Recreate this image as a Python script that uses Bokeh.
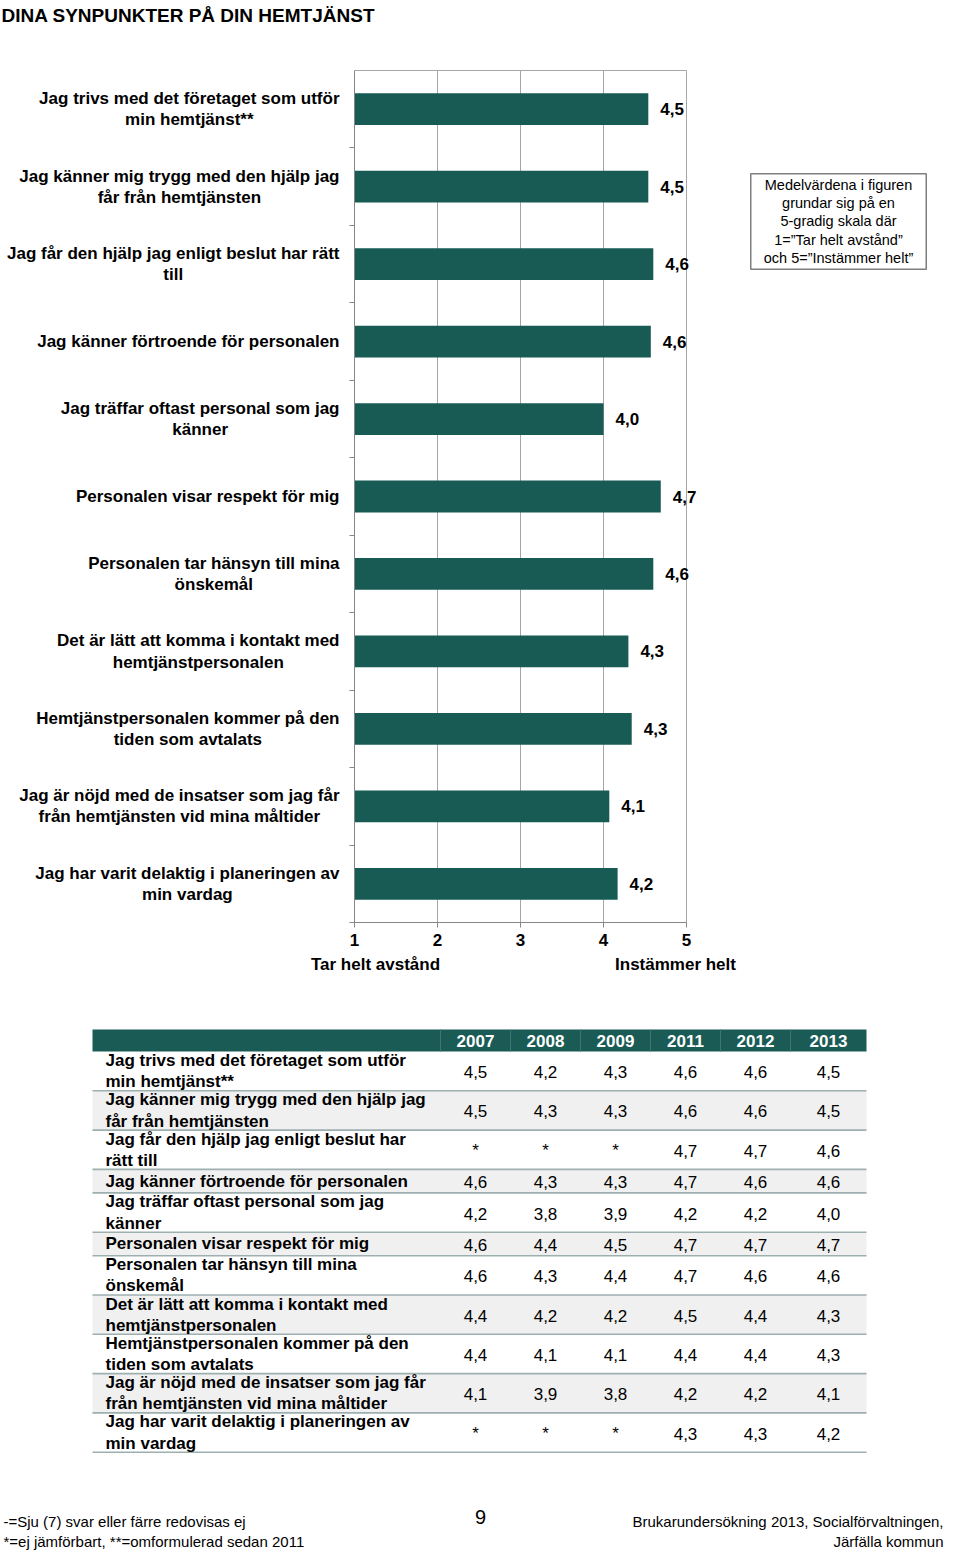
from bokeh.plotting import figure
from bokeh.models import ColumnDataSource, Range1d, FixedTicker, Label, LinearAxis, Grid
from bokeh.embed import file_html
from bokeh.resources import INLINE
from bokeh.core.properties import value

FONT = "Liberation Sans"

# ------------------------------------------------------------------ data
title_text = "DINA SYNPUNKTER PÅ DIN HEMTJÄNST"

chart_labels = [
    "Jag trivs med det företaget som utför\nmin hemtjänst**",
    "Jag känner mig trygg med den hjälp jag\nfår från hemtjänsten",
    "Jag får den hjälp jag enligt beslut har rätt\ntill",
    "Jag känner förtroende för personalen",
    "Jag träffar oftast personal som jag\nkänner",
    "Personalen visar respekt för mig",
    "Personalen tar hänsyn till mina\nönskemål",
    "Det är lätt att komma i kontakt med\nhemtjänstpersonalen",
    "Hemtjänstpersonalen kommer på den\ntiden som avtalats",
    "Jag är nöjd med de insatser som jag får\nfrån hemtjänsten vid mina måltider",
    "Jag har varit delaktig i planeringen av\nmin vardag",
]
bar_values = [4.54, 4.54, 4.60, 4.57, 4.00, 4.69, 4.60, 4.30, 4.34, 4.07, 4.17]

scale_ticks = [1, 2, 3, 4, 5]
scale_low = "Tar helt avstånd"
scale_high = "Instämmer helt"
note_text = ("Medelvärdena i figuren\ngrundar sig på en\n5-gradig skala där\n"
             "1=”Tar helt avstånd”\noch 5=”Instämmer helt”")

table_labels = [
    "Jag trivs med det företaget som utför\nmin hemtjänst**",
    "Jag känner mig trygg med den hjälp jag\nfår från hemtjänsten",
    "Jag får den hjälp jag enligt beslut har\nrätt till",
    "Jag känner förtroende för personalen",
    "Jag träffar oftast personal som jag\nkänner",
    "Personalen visar respekt för mig",
    "Personalen tar hänsyn till mina\nönskemål",
    "Det är lätt att komma i kontakt med\nhemtjänstpersonalen",
    "Hemtjänstpersonalen kommer på den\ntiden som avtalats",
    "Jag är nöjd med de insatser som jag får\nfrån hemtjänsten vid mina måltider",
    "Jag har varit delaktig i planeringen av\nmin vardag",
]
years = ["2007", "2008", "2009", "2011", "2012", "2013"]
v2007 = [4.5, 4.5, None, 4.6, 4.2, 4.6, 4.6, 4.4, 4.4, 4.1, None]
v2008 = [4.2, 4.3, None, 4.3, 3.8, 4.4, 4.3, 4.2, 4.1, 3.9, None]
v2009 = [4.3, 4.3, None, 4.3, 3.9, 4.5, 4.4, 4.2, 4.1, 3.8, None]
v2011 = [4.6, 4.6, 4.7, 4.7, 4.2, 4.7, 4.7, 4.5, 4.4, 4.2, 4.3]
v2012 = [4.6, 4.6, 4.7, 4.6, 4.2, 4.7, 4.6, 4.4, 4.4, 4.2, 4.3]
v2013 = [4.5, 4.5, 4.6, 4.6, 4.0, 4.7, 4.6, 4.3, 4.3, 4.1, 4.2]

page_no = "9"
footer_left = "-=Sju (7) svar eller färre redovisas ej\n*=ej jämförbart, **=omformulerad sedan 2011"
footer_right = "Brukarundersökning 2013, Socialförvaltningen,\nJärfälla kommun"

# ------------------------------------------------------------------ helpers
BAR = "#175b54"
HEAD = "#1a5c55"
GRID = "#a6a6a6"
AXIS = "#868686"


def fmt(v):
    return "*" if v is None else f"{v:.1f}".replace(".", ",")


BOLD_W = {" ": 278, "*": 389, ",": 278, "a": 556, "b": 611, "c": 556, "d": 611,
          "e": 556, "f": 333, "g": 611, "h": 611, "i": 278, "j": 278, "k": 556,
          "l": 278, "m": 889, "n": 611, "o": 611, "p": 611, "q": 611, "r": 389,
          "s": 556, "t": 333, "u": 611, "v": 556, "w": 778, "x": 556, "y": 556,
          "z": 500, "å": 556, "ä": 556, "ö": 611, "A": 722, "D": 722, "H": 722,
          "J": 556, "P": 667}


def text_w(s, size):
    return max(sum(BOLD_W.get(ch, 600) for ch in line) for line in s.split("\n")) * size / 1000.0


# ------------------------------------------------------------------ geometry (screen px)
W, H = 944, 1550
X1_PX, X5_PX = 354, 686
TOP_PX, BOT_PX = 70, 922
LABEL_RIGHT = 339
n = len(chart_labels)
ppu = (X5_PX - X1_PX) / (scale_ticks[-1] - scale_ticks[0])
ppc = (BOT_PX - TOP_PX) / n


def px2x(px):
    return scale_ticks[0] + (px - X1_PX) / ppu


def py2y(py):
    return (py - TOP_PX) / ppc


p = figure(width=W, height=H, x_range=Range1d(0, W), y_range=Range1d(H, 0),
           output_backend="svg", toolbar_location=None, min_border=0,
           x_axis_location=None, y_axis_location=None)
p.background_fill_color = "white"
p.border_fill_color = "white"
p.outline_line_color = None
p.grid.visible = False

p.extra_x_ranges = {"val": Range1d(px2x(0), px2x(W))}
p.extra_y_ranges = {"cat": Range1d(py2y(H), py2y(0))}

# ------------------------------------------------------------------ bar chart
grid = Grid(dimension=0, ticker=FixedTicker(ticks=scale_ticks[1:]), x_range_name="val",
            y_range_name="cat", cross_bounds=(0, n), grid_line_color=GRID)
p.add_layout(grid)

xax = LinearAxis(x_range_name="val", y_range_name="cat", fixed_location=n,
                 ticker=FixedTicker(ticks=scale_ticks), bounds=(scale_ticks[0], scale_ticks[-1]))
xax.axis_line_color = AXIS
xax.major_tick_line_color = AXIS
xax.major_tick_out = 5
xax.major_tick_in = 0
xax.minor_tick_line_color = None
xax.major_label_standoff = 6
xax.major_label_text_font = FONT
xax.major_label_text_font_size = "17px"
xax.major_label_text_font_style = "bold"
xax.major_label_text_color = "black"
p.add_layout(xax, "below")

yax = LinearAxis(x_range_name="val", y_range_name="cat", fixed_location=scale_ticks[0],
                 ticker=FixedTicker(ticks=list(range(1, n + 1))), bounds=(0, n))
yax.major_label_overrides = {i: "" for i in range(0, n + 1)}
yax.axis_line_color = AXIS
yax.major_tick_line_color = AXIS
yax.major_tick_out = 5
yax.major_tick_in = 0
yax.minor_tick_line_color = None
p.add_layout(yax, "left")

topax = LinearAxis(x_range_name="val", y_range_name="cat", fixed_location=0,
                   ticker=FixedTicker(ticks=[]), bounds=(scale_ticks[0], scale_ticks[-1]))
topax.axis_line_color = GRID
topax.major_tick_line_color = None
topax.minor_tick_line_color = None
p.add_layout(topax, "above")

centers = [i + 0.5 for i in range(n)]
label_cx = [LABEL_RIGHT - text_w(s, 17) / 2 for s in chart_labels]
src = ColumnDataSource(dict(y=centers, v=bar_values, lab=[fmt(round(v, 1)) for v in bar_values],
                            cat=chart_labels, cx=label_cx))
p.hbar(y="y", left=scale_ticks[0], right="v", height=0.41, fill_color=BAR,
       line_color=None, source=src, x_range_name="val", y_range_name="cat")

p.text(x="v", y="y", text="lab", x_offset=12, source=src, x_range_name="val",
       y_range_name="cat", text_font=value(FONT), text_font_size="17px",
       text_font_style="bold", text_align="left", text_baseline="middle", text_color="black")
p.text(x="cx", y="y", text="cat", source=src, y_range_name="cat",
       text_font=value(FONT), text_font_size="17px", text_font_style="bold",
       text_align="center", text_baseline="middle", text_color="black",
       text_line_height=1.12)

p.text(x=[1], y=[4], text=[title_text], text_font=value(FONT),
       text_font_size="19px", text_font_style="bold", text_align="left",
       text_baseline="top", text_color="black")
p.text(x=[375, 675], y=[964, 964], text=[scale_low, scale_high], text_font=value(FONT),
       text_font_size="17px", text_font_style="bold", text_align="center",
       text_baseline="middle", text_color="black")
p.add_layout(Label(x=838, y=221, text=note_text, text_font=FONT,
                   text_font_size="14.5px", text_align="center", text_baseline="middle",
                   text_color="black", text_line_height=1.15,
                   border_line_color="#7f7f7f", border_line_width=1.5,
                   background_fill_color="white", padding=dict(x=13, y=3)))

# ------------------------------------------------------------------ table
T_LEFT, T_RIGHT = 92, 866
HEAD_TOP, HEAD_BOT = 1029, 1051
col_centers = [475, 545, 615, 685, 755, 828]
col_seps = [440, 510, 580, 650, 720, 790]
ROW_H = {1: 23.5, 2: 39.3}

tops, bots, rc = [], [], []
y = HEAD_BOT
for lab in table_labels:
    h = ROW_H[lab.count("\n") + 1]
    tops.append(y)
    bots.append(y + h)
    rc.append(y + h / 2)
    y += h

shade_t = [tops[i] for i in range(len(tops)) if i % 2 == 1]
shade_b = [bots[i] for i in range(len(bots)) if i % 2 == 1]
p.quad(left=T_LEFT, right=T_RIGHT, top=shade_t, bottom=shade_b, fill_color="#f0f0f0",
       line_color=None)
p.segment(x0=T_LEFT, x1=T_RIGHT, y0=bots, y1=bots, line_color="#9eafb0", line_width=1.6)

p.quad(left=T_LEFT, right=T_RIGHT, top=HEAD_TOP, bottom=HEAD_BOT, fill_color=HEAD,
       line_color=None)
p.segment(x0=col_seps, x1=col_seps, y0=HEAD_TOP, y1=HEAD_BOT, line_color="#3b766f",
          line_width=1)
p.text(x=col_centers, y=[(HEAD_TOP + HEAD_BOT) / 2 + 0.5] * len(years), text=years,
       text_font=value(FONT), text_font_size="17px", text_font_style="bold",
       text_color="white", text_align="center", text_baseline="middle")

p.text(x=[105] * len(table_labels), y=rc, text=table_labels, text_font=value(FONT),
       text_font_size="17px", text_font_style="bold", text_color="black",
       text_align="left", text_baseline="middle", text_line_height=1.12)

for cx, vals in zip(col_centers, [v2007, v2008, v2009, v2011, v2012, v2013]):
    p.text(x=[cx] * len(vals), y=[c + 1 for c in rc], text=[fmt(v) for v in vals],
           text_font=value(FONT), text_font_size="17px", text_color="black",
           text_align="center", text_baseline="middle")

p.text(x=[480], y=[1516], text=[page_no], text_font=value(FONT), text_font_size="20px",
       text_color="black", text_align="center", text_baseline="middle")
p.text(x=[3], y=[1531], text=[footer_left], text_font=value(FONT),
       text_font_size="15px", text_color="black", text_align="left",
       text_baseline="middle", text_line_height=1.12)
p.text(x=[W - 1], y=[1531], text=[footer_right], text_font=value(FONT),
       text_font_size="15px", text_color="black", text_align="right",
       text_baseline="middle", text_line_height=1.12)

open("out.html", "w").write(file_html(p, INLINE))
